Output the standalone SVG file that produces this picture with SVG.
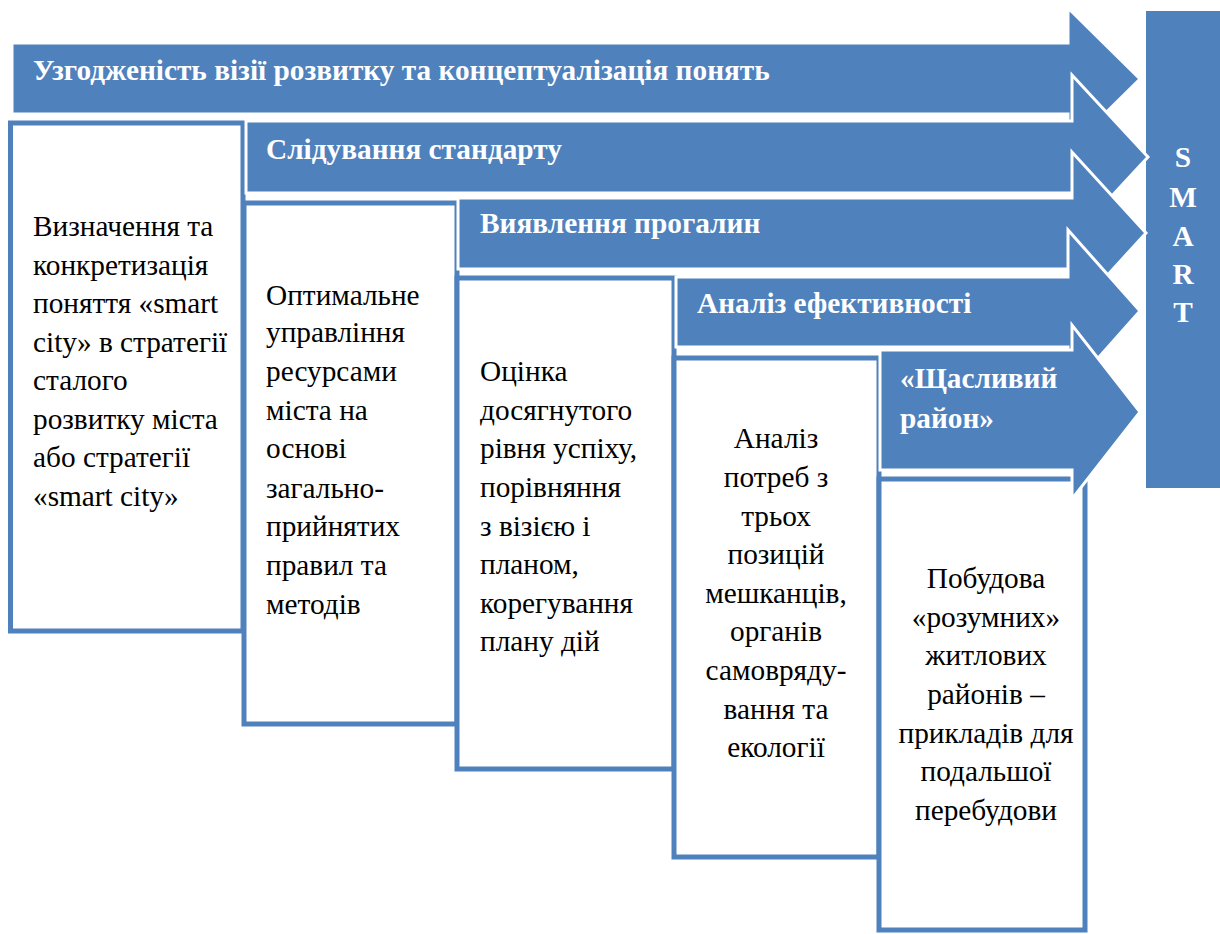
<svg xmlns="http://www.w3.org/2000/svg" width="1220" height="934" viewBox="0 0 1220 934">
<style>
.box{fill:#fff;stroke:#4F81BD;stroke-width:5}
.arr{fill:#4F81BD;stroke:#fff;stroke-width:3;stroke-linejoin:miter}
.ht{font-family:'Liberation Serif','DejaVu Serif',serif;font-weight:bold;font-size:29.3px;fill:#fff}
.bt{font-family:'Liberation Serif','DejaVu Serif',serif;font-size:29.3px;fill:#000}
.c{text-anchor:middle}
</style>
<rect width="1220" height="934" fill="#fff"/>
<g id="smart">
<rect x="1146" y="11" width="74" height="477" fill="#4F81BD"/>
<text class="ht c" x="1183" y="167">S</text>
<text class="ht c" x="1183" y="207">M</text>
<text class="ht c" x="1183" y="246">A</text>
<text class="ht c" x="1183" y="284">R</text>
<text class="ht c" x="1183" y="322">T</text>
</g>
<g id="box1">
<rect class="box" x="10.5" y="123" width="232.5" height="508"/>
<text class="bt" x="33"><tspan x="33" y="236">Визначення та</tspan><tspan x="33" y="275">конкретизація</tspan><tspan x="33" y="313">поняття «smart</tspan><tspan x="33" y="352">city» в стратегії</tspan><tspan x="33" y="390">сталого</tspan><tspan x="33" y="429">розвитку міста</tspan><tspan x="33" y="467">або стратегії</tspan><tspan x="33" y="506">«smart city»</tspan></text>
</g>
<g id="box2">
<rect class="box" x="244" y="203" width="213" height="521"/>
<text class="bt"><tspan x="266" y="305">Оптимальне</tspan><tspan x="266" y="342">управління</tspan><tspan x="266" y="381">ресурсами</tspan><tspan x="266" y="420">міста на</tspan><tspan x="266" y="458">основі</tspan><tspan x="266" y="498">загально-</tspan><tspan x="266" y="536">прийнятих</tspan><tspan x="266" y="575">правил та</tspan><tspan x="266" y="614">методів</tspan></text>
</g>
<g id="box3">
<rect class="box" x="457" y="278" width="217" height="491"/>
<text class="bt"><tspan x="480" y="381">Оцінка</tspan><tspan x="480" y="420">досягнутого</tspan><tspan x="480" y="458">рівня успіху,</tspan><tspan x="480" y="497">порівняння</tspan><tspan x="480" y="536">з візією і</tspan><tspan x="480" y="574">планом,</tspan><tspan x="480" y="613">корегування</tspan><tspan x="480" y="651">плану дій</tspan></text>
</g>
<g id="box4">
<rect class="box" x="674" y="358" width="205" height="499"/>
<text class="bt c"><tspan x="776" y="448">Аналіз</tspan><tspan x="776" y="487">потреб з</tspan><tspan x="776" y="526">трьох</tspan><tspan x="776" y="564">позицій</tspan><tspan x="776" y="603">мешканців,</tspan><tspan x="776" y="641">органів</tspan><tspan x="776" y="680">самовряду-</tspan><tspan x="776" y="719">вання та</tspan><tspan x="776" y="757">екології</tspan></text>
</g>
<g id="box5">
<rect class="box" x="879" y="479" width="206" height="451"/>
<text class="bt c"><tspan x="986" y="588">Побудова</tspan><tspan x="986" y="627">«розумних»</tspan><tspan x="986" y="665">житлових</tspan><tspan x="986" y="704">районів –</tspan><tspan x="986" y="743">прикладів для</tspan><tspan x="986" y="781">подальшої</tspan><tspan x="986" y="820">перебудови</tspan></text>
</g>
<g id="arrow1">
<polygon class="arr" points="12,43 1068,43 1068,8 1140,79 1068,150 1068,114 12,114"/>
<text class="ht" x="33" y="80">Узгодженість візії розвитку та концептуалізація понять</text>
</g>
<g id="arrow2">
<polygon class="arr" points="246,121 1072,121 1072,75 1148,157 1072,239 1072,193 246,193"/>
<text class="ht" x="266" y="159">Слідування стандарту</text>
</g>
<g id="arrow3">
<polygon class="arr" points="458,198 1072,198 1072,152 1146,233 1072,314 1072,269 458,269"/>
<text class="ht" x="480" y="233">Виявлення прогалин</text>
</g>
<g id="arrow4">
<polygon class="arr" points="676,277 1068,277 1068,230 1140,311 1068,392 1068,347 676,347"/>
<text class="ht" x="697" y="313">Аналіз ефективності</text>
</g>
<g id="arrow5">
<polygon class="arr" points="880,350 1072,350 1072,325 1140,412 1072,499 1072,470 880,470"/>
<text class="ht"><tspan x="900" y="388">«Щасливий</tspan><tspan x="900" y="428">район»</tspan></text>
</g>
</svg>
